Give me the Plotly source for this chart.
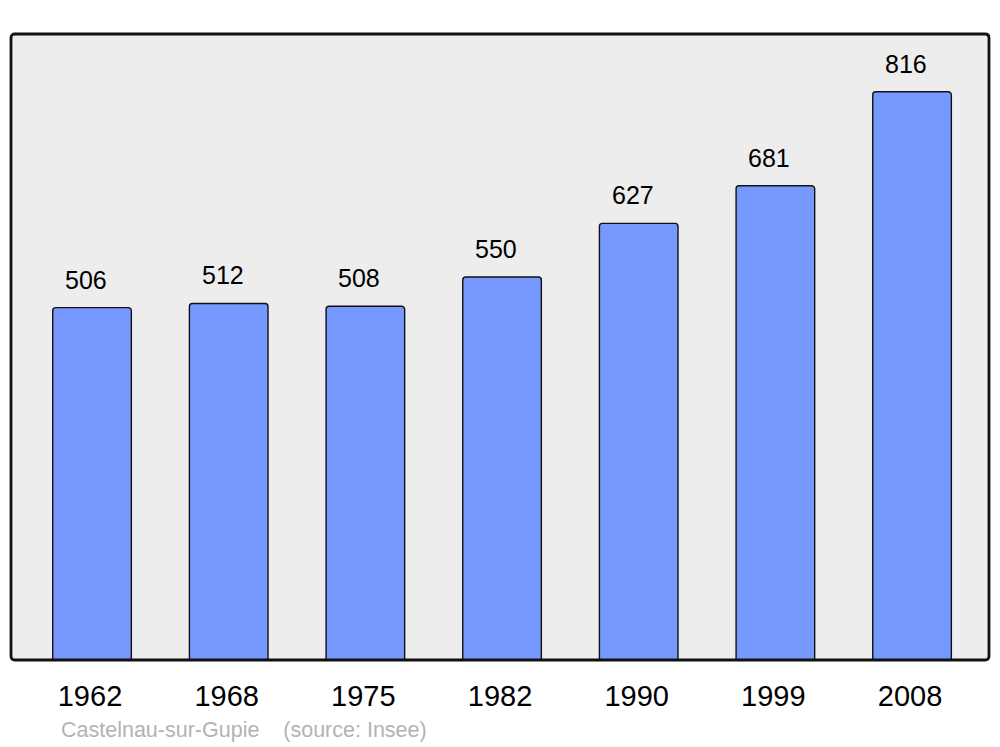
import plotly.graph_objects as go

years = ["1962", "1968", "1975", "1982", "1990", "1999", "2008"]
population = [506, 512, 508, 550, 627, 681, 816]
caption = "Castelnau-sur-Gupie    (source: Insee)"

xs = list(range(len(years)))

fig = go.Figure()
fig.add_trace(go.Bar(
    x=xs, y=population, width=0.575,
    marker=dict(color="#7799ff", line=dict(color="#111111", width=1.4), cornerradius=3),
    hoverinfo="skip",
))

for x, v in zip(xs, population):
    fig.add_annotation(x=x, y=v, text=str(v), showarrow=False, xshift=-6, yshift=28,
                       font=dict(family="Liberation Sans", size=25, color="#000"))

fig.add_annotation(xref="paper", yref="paper", x=0.0495, y=-0.112, xanchor="left", yanchor="middle",
                   text=caption, showarrow=False,
                   font=dict(family="Liberation Sans", size=21.5, color="#b3b3b3"))

# rounded frame around the plot area
pw, ph = 978.0, 626.0
rx, ry = 4 / pw, 4 / ph
path = (f"M {rx},0 L {1-rx},0 Q 1,0 1,{ry} L 1,{1-ry} Q 1,1 {1-rx},1 "
        f"L {rx},1 Q 0,1 0,{1-ry} L 0,{ry} Q 0,0 {rx},0 Z")
fig.add_shape(type="path", xref="paper", yref="paper", path=path,
              line=dict(color="#111111", width=2.8), layer="above")

fig.update_layout(
    width=992, height=739,
    margin=dict(l=3, r=11, t=26, b=87),
    paper_bgcolor="#ffffff", plot_bgcolor="#ededed",
    showlegend=False,
    xaxis=dict(range=[-0.593, 6.563], tickmode="array", tickvals=[x - 0.015 for x in xs], ticktext=years,
               showgrid=False, zeroline=False, ticks="", ticklabelstandoff=16,
               tickfont=dict(family="Liberation Sans", size=29, color="#000")),
    yaxis=dict(range=[0, 899], showgrid=False, zeroline=False, showticklabels=False, ticks=""),
)

fig.write_html("out.html")
